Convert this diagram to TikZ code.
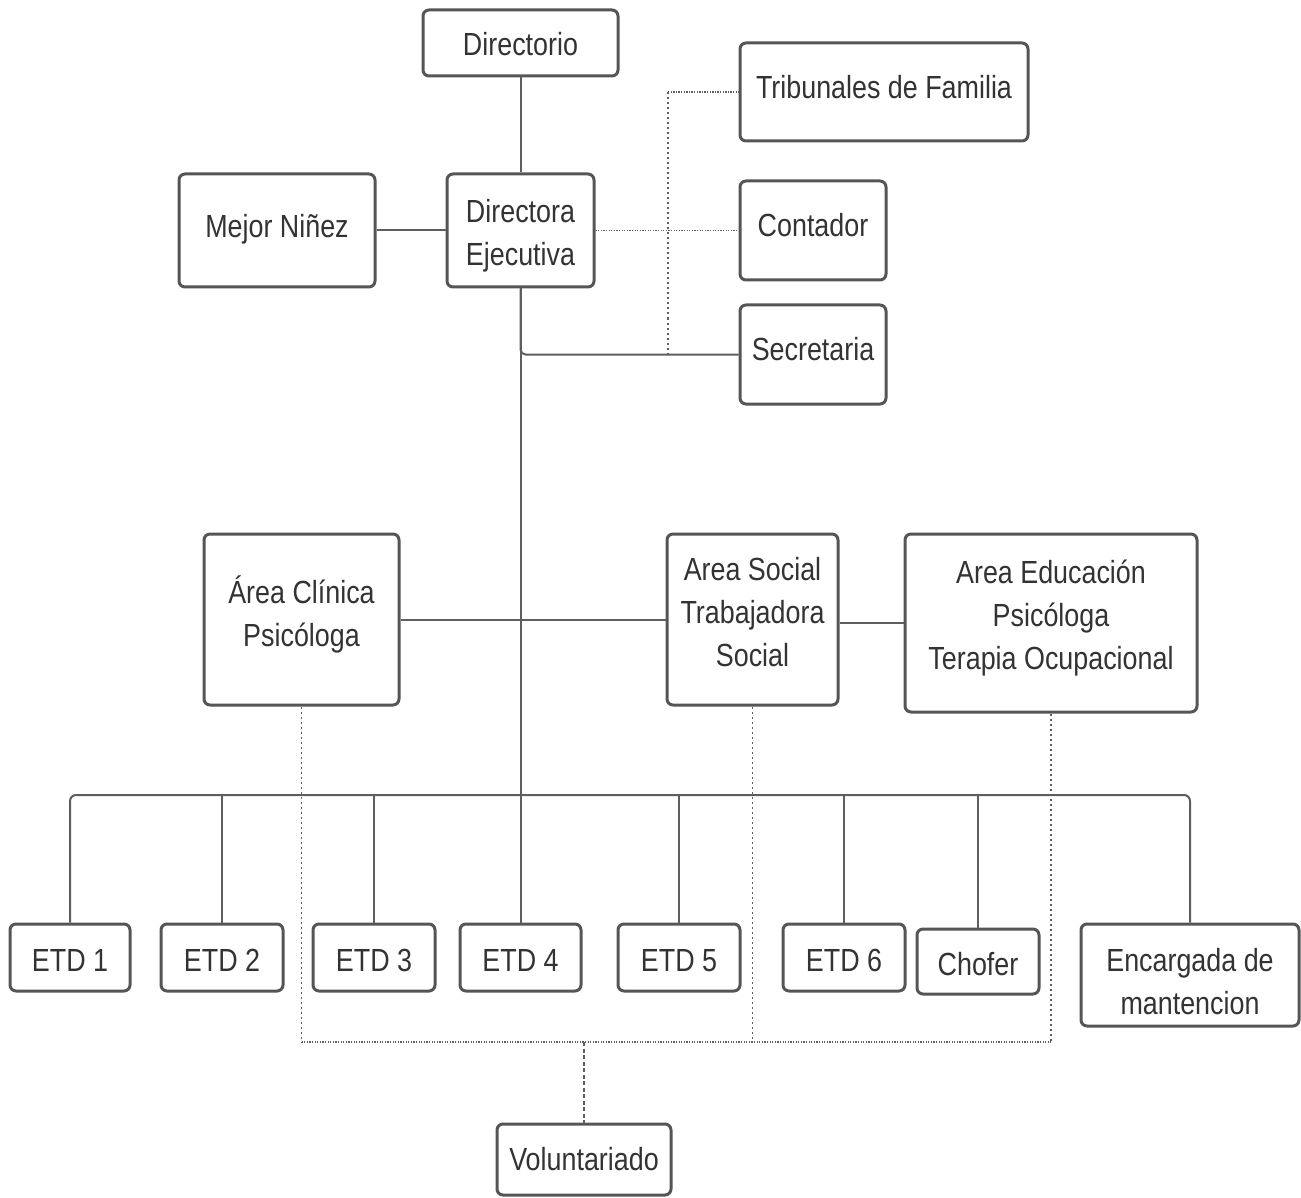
\documentclass[tikz,border=0pt]{standalone}
\usepackage{fontspec}
\setmainfont[FakeStretch=0.84]{Liberation Sans}
\definecolor{boxc}{HTML}{555555}
\definecolor{txtc}{HTML}{333333}
\definecolor{linec}{HTML}{5E5E5E}
\newsavebox{\tbox}
\newcommand{\rbt}[2]{\sbox{\tbox}{\begin{tabular}{@{}c@{}}#2\end{tabular}}\raisebox{#1}[\ht\tbox][\dp\tbox]{\usebox{\tbox}}}
\begin{document}
\begin{tikzpicture}[x=1pt,y=-1pt,
  box/.style={draw=boxc, line width=3pt, rounded corners=6pt, fill=white, text=txtc,
    align=center, inner sep=0pt, font=\fontsize{32}{43}\selectfont},
  conn/.style={draw=linec, line width=2pt},
  dotc/.style={draw=linec, line width=1.6pt, dash pattern=on 1.3pt off 1.3pt},
  dotv/.style={draw=linec, line width=1.4pt, dash pattern=on 2pt off 3pt},
  dashc/.style={draw=linec, line width=1.6pt, dash pattern=on 4pt off 2.5pt}]
\useasboundingbox (0,0) rectangle (1301,1198);
% boxes
\node[box, minimum width=195pt, minimum height=66pt] (dir) at (520.5,43) {\rbt{-4pt}{Directorio}};
\node[box, minimum width=288pt, minimum height=98pt] (trib) at (884,92) {\rbt{2pt}{Tribunales de Familia}};
\node[box, minimum width=196pt, minimum height=113pt] (mej) at (277,230.5) {\rbt{2pt}{Mejor Niñez}};
\node[box, minimum width=147pt, minimum height=113pt] (dirE) at (520.5,230.5) {\rbt{-5pt}{Directora\\Ejecutiva}};
\node[box, minimum width=146pt, minimum height=99pt] (cont) at (813,230.5) {\rbt{3pt}{Contador}};
\node[box, minimum width=146pt, minimum height=99pt] (sec) at (813,354.5) {\rbt{3pt}{Secretaria}};
\node[box, minimum width=195pt, minimum height=171pt] (cli) at (301.5,619.5) {\rbt{3pt}{Área Clínica\\Psicóloga}};
\node[box, minimum width=171pt, minimum height=171pt] (soc) at (752.5,619.5) {\rbt{5pt}{Area Social\\Trabajadora\\Social}};
\node[box, minimum width=292pt, minimum height=178pt] (edu) at (1051,623) {\rbt{5pt}{Area Educación\\Psicóloga\\Terapia Ocupacional}};
\node[box, minimum width=120pt, minimum height=67pt] (e1) at (70,957.5) {\rbt{-5pt}{ETD 1}};
\node[box, minimum width=122pt, minimum height=67pt] (e2) at (222,957.5) {\rbt{-5pt}{ETD 2}};
\node[box, minimum width=122pt, minimum height=67pt] (e3) at (374,957.5) {\rbt{-5pt}{ETD 3}};
\node[box, minimum width=121pt, minimum height=67pt] (e4) at (520.5,957.5) {\rbt{-5pt}{ETD 4}};
\node[box, minimum width=122pt, minimum height=67pt] (e5) at (679,957.5) {\rbt{-5pt}{ETD 5}};
\node[box, minimum width=122pt, minimum height=67pt] (e6) at (844,957.5) {\rbt{-5pt}{ETD 6}};
\node[box, minimum width=122pt, minimum height=65pt] (cho) at (978,961.5) {\rbt{-5pt}{Chofer}};
\node[box, minimum width=218pt, minimum height=102pt] (enc) at (1190,975) {\rbt{-9pt}{Encargada de\\mantencion}};
\node[box, minimum width=174pt, minimum height=71pt] (vol) at (584,1159.5) {\rbt{-2pt}{Voluntariado}};
% helper coordinates
\coordinate (trunkbot) at (dirE.south |- 0,795);
\coordinate (dx) at (668,354.5);
\coordinate (vb) at (584,1042);
% solid connectors
\draw[conn] (dir.south) -- (dirE.north);
\draw[conn] (mej.east) -- (dirE.west);
\draw[conn] (dirE.south) -- (trunkbot);
\draw[conn, rounded corners=5pt] (dirE.south) |- (sec.west);
\draw[conn] (cli.east) -- (soc.west);
\draw[conn] (edu.west -| soc.east) -- (edu.west);
\draw[conn, rounded corners=6pt] (e1.north) |- (trunkbot) -| (enc.north);
\foreach \n in {e2,e3,e4,e5,e6,cho}{
  \draw[conn] (\n.north) -- (\n.north |- trunkbot);
}
% dotted connectors
\draw[dotc] (dirE.east) -- (cont.west);
\draw[dotv] (dx) -- (dx |- trib.west);
\draw[dotc] (dx |- trib.west) -- (trib.west);
\draw[dotv] (cli.south) -- (cli.south |- vb);
\draw[dotv] (soc.south) -- (soc.south |- vb);
\draw[dotv] (edu.south) -- (edu.south |- vb);
\draw[dotc] (cli.south |- vb) -- (edu.south |- vb);
\draw[dashc] (vb) -- (vol.north);
\end{tikzpicture}
\end{document}
